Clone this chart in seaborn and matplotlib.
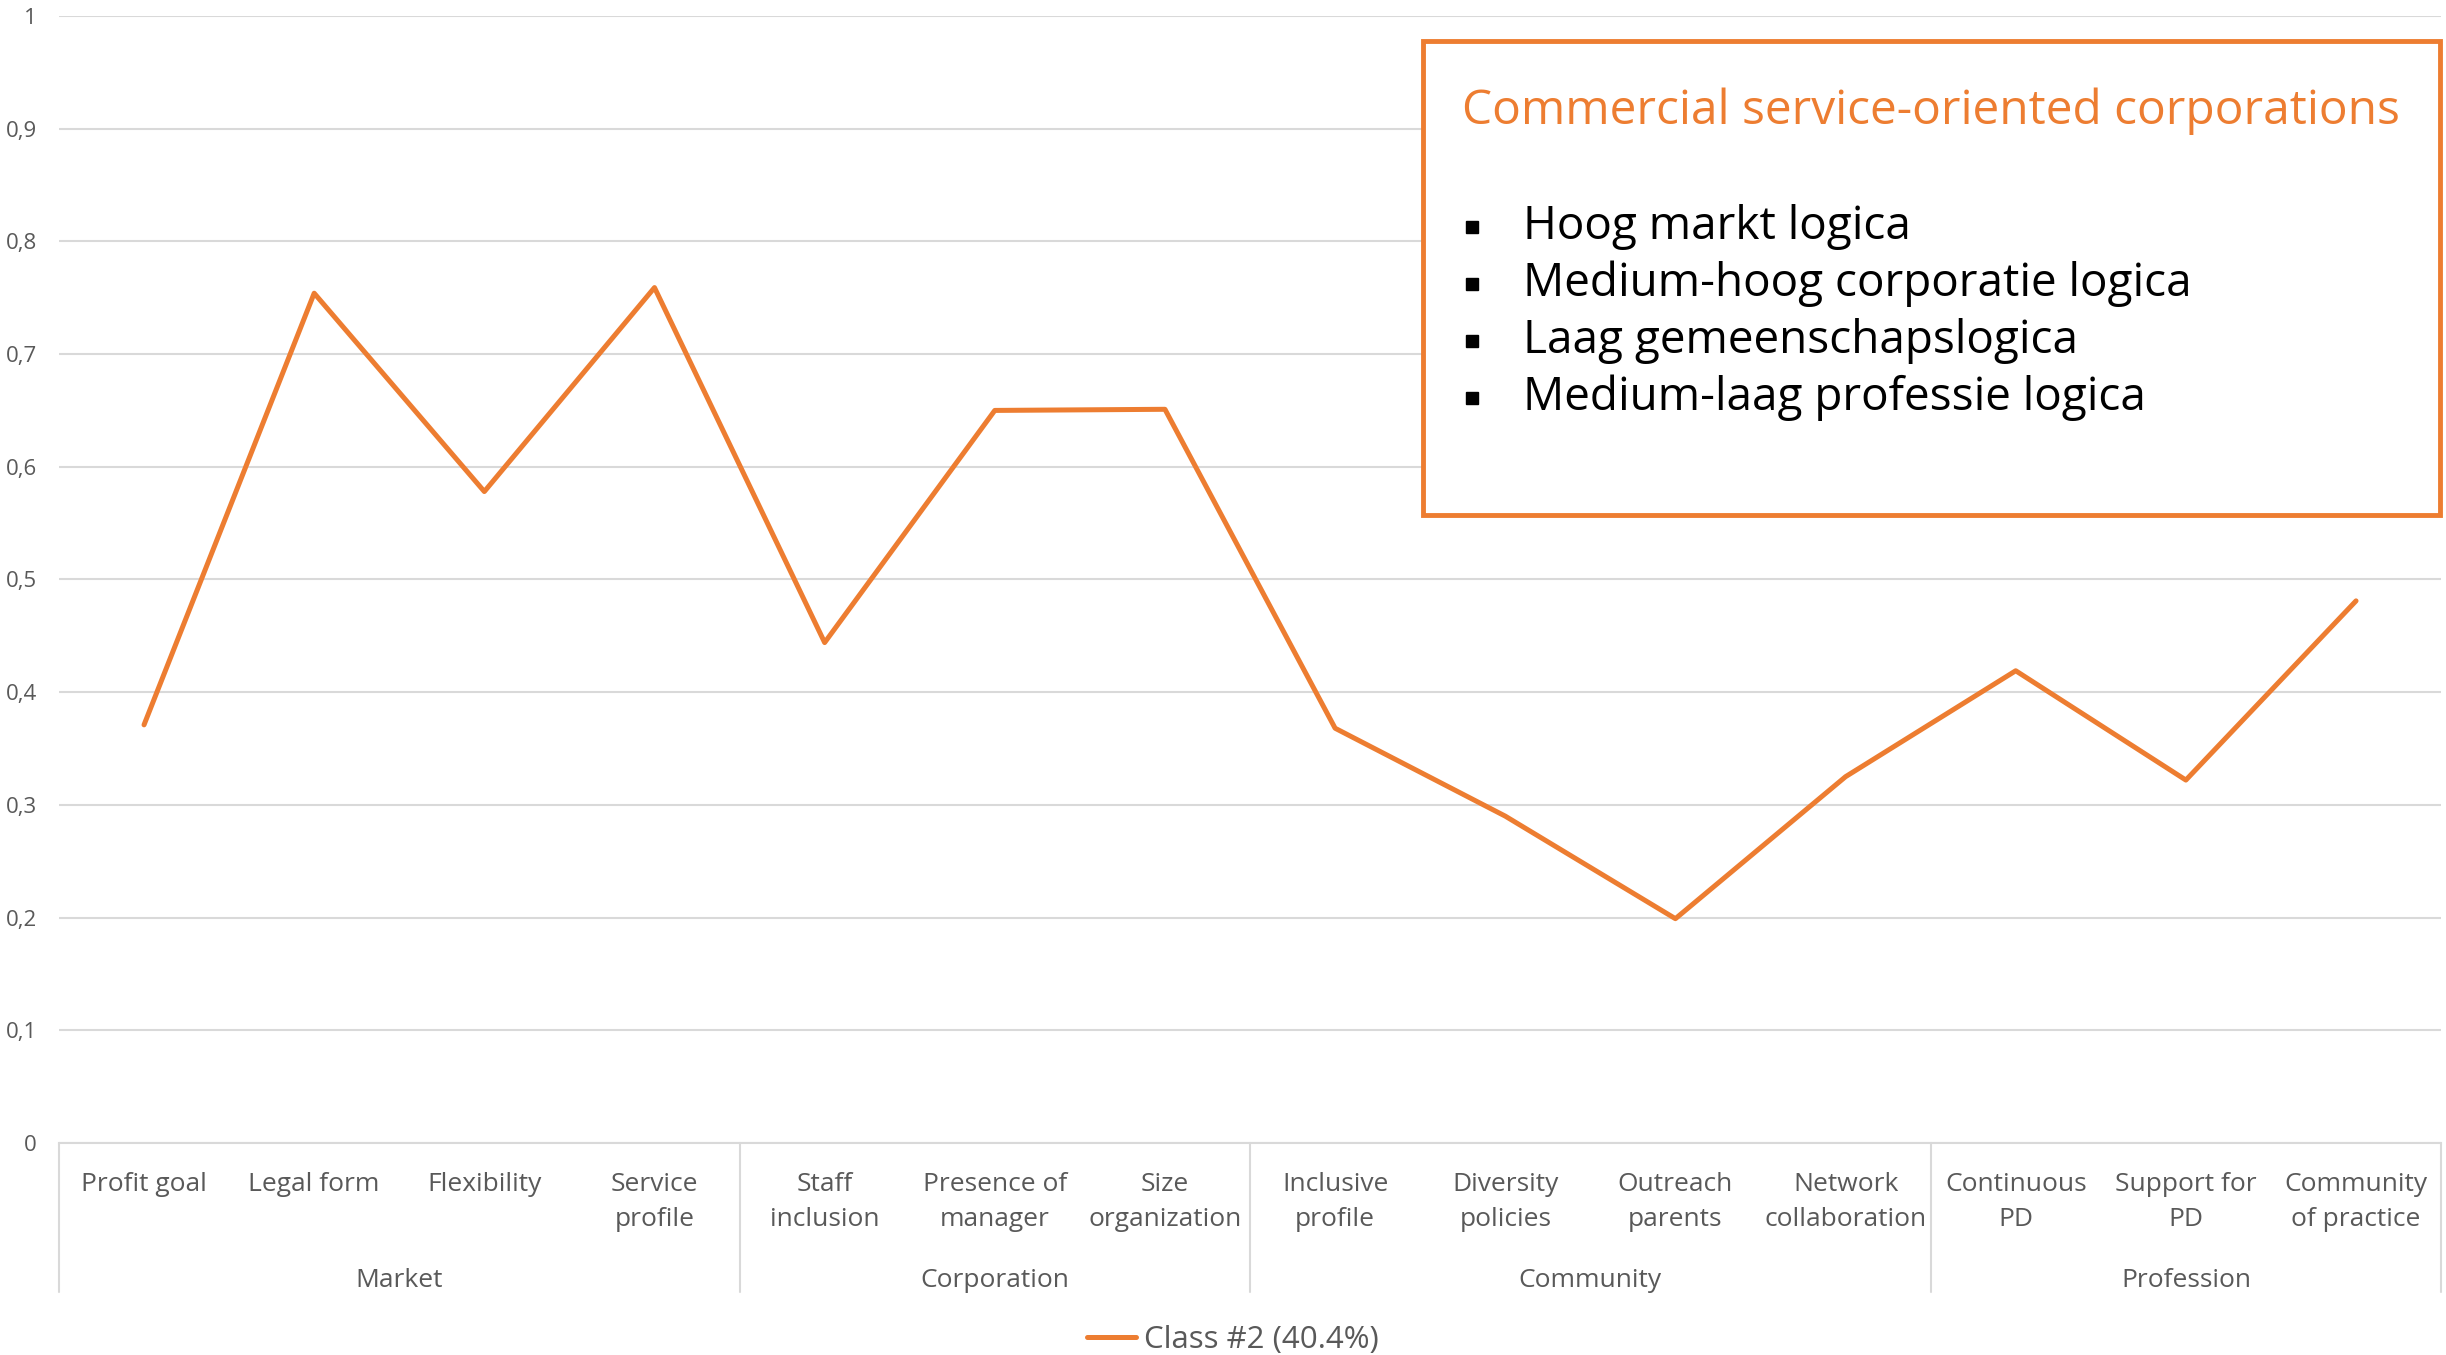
import matplotlib
matplotlib.use("Agg")
import matplotlib.pyplot as plt
from matplotlib.patches import Rectangle
from matplotlib.lines import Line2D
from matplotlib.transforms import blended_transform_factory
import seaborn as sns
import pandas as pd

# ---- data ----
categories = [
    "Profit goal", "Legal form", "Flexibility", "Service profile",
    "Staff inclusion", "Presence of manager", "Size organization",
    "Inclusive profile", "Diversity policies", "Outreach parents", "Network collaboration",
    "Continuous PD", "Support for PD", "Community of practice",
]
tick_labels = [
    "Profit goal", "Legal form", "Flexibility", "Service\nprofile",
    "Staff\ninclusion", "Presence of\nmanager", "Size\norganization",
    "Inclusive\nprofile", "Diversity\npolicies", "Outreach\nparents", "Network\ncollaboration",
    "Continuous\nPD", "Support for\nPD", "Community\nof practice",
]
class2_values = [0.371, 0.754, 0.578, 0.759, 0.444, 0.650, 0.651,
                 0.368, 0.290, 0.199, 0.325, 0.419, 0.322, 0.481]
groups = ["Market", "Corporation", "Community", "Profession"]
group_sizes = [4, 3, 4, 3]
series_name = "Class #2 (40.4%)"
y_ticks = [0, 0.1, 0.2, 0.3, 0.4, 0.5, 0.6, 0.7, 0.8, 0.9, 1.0]
y_tick_labels = ["0", "0,1", "0,2", "0,3", "0,4", "0,5", "0,6", "0,7", "0,8", "0,9", "1"]

box_title = "Commercial service-oriented corporations"
box_items = [
    "Hoog markt logica",
    "Medium-hoog corporatie logica",
    "Laag gemeenschapslogica",
    "Medium-laag professie logica",
]

ORANGE = "#ED7D31"
TEXT = "#595959"
GRID = "#D9D9D9"

sns.set_theme(style="white")
plt.rcParams["font.family"] = ["Open Sans", "DejaVu Sans"]

df = pd.DataFrame({"category": categories, "value": class2_values})

fig = plt.figure(figsize=(24.46, 13.55), dpi=100)
ax = fig.add_axes([0.0241, 0.1565, 0.9739, 0.8317])

sns.lineplot(data=df, x="category", y="value", ax=ax, color=ORANGE,
             linewidth=3.6, sort=False, label=series_name,
             solid_capstyle="round")

n = len(categories)
ax.set_xlim(-0.5, n - 0.5)
ax.set_ylim(0, 1)
ax.set_yticks(y_ticks)
ax.set_yticklabels(y_tick_labels)
ax.yaxis.grid(True, color=GRID, linewidth=1.5)
ax.xaxis.grid(False)
ax.set_xlabel("")
ax.set_ylabel("")
for side in ["top", "right", "left"]:
    ax.spines[side].set_visible(False)
ax.spines["bottom"].set_color(GRID)
ax.spines["bottom"].set_linewidth(1.5)

ax.tick_params(axis="y", length=0, pad=16, labelsize=16, labelcolor=TEXT)
ax.set_xticks(range(n))
ax.set_xticklabels(tick_labels, fontsize=19, color=TEXT, linespacing=1.5)
ax.tick_params(axis="x", length=0, pad=21)

# group separators and group names below the axis
trans = blended_transform_factory(ax.transData, ax.transAxes)
edges = [-0.5]
for s in group_sizes:
    edges.append(edges[-1] + s)
for e in edges:
    ax.plot([e, e], [0, -0.132], transform=trans, color=GRID,
            linewidth=1.5, clip_on=False)
for g, a, b in zip(groups, edges[:-1], edges[1:]):
    ax.text((a + b) / 2, -0.1225, g, transform=trans, ha="center", va="center",
            fontsize=19, color=TEXT)

leg = ax.legend(loc="center", bbox_to_anchor=(0.504, 0.011),
                bbox_transform=fig.transFigure, frameon=False,
                fontsize=22.5, handlelength=1.55, handletextpad=0.25)
for t in leg.get_texts():
    t.set_color(TEXT)

# annotation box
box = Rectangle((0.5818, 0.620), 0.4158, 0.3498, transform=fig.transFigure,
                facecolor="white", edgecolor=ORANGE, linewidth=3.5, zorder=5)
fig.add_artist(box)
fig.text(1462 / 2446, 1 - 111 / 1355, box_title, color=ORANGE, fontsize=34.5,
         ha="left", va="center", zorder=6)
for i, item in enumerate(box_items):
    yy = 1 - (227 + 57 * i) / 1355
    fig.add_artist(Line2D([1472 / 2446], [yy], marker="s", markersize=8,
                          color="black", linestyle="none",
                          transform=fig.transFigure, zorder=6))
    fig.text(1523 / 2446, yy, item, color="black", fontsize=33,
             ha="left", va="center", zorder=6)

fig.savefig("out.png", dpi=100)
